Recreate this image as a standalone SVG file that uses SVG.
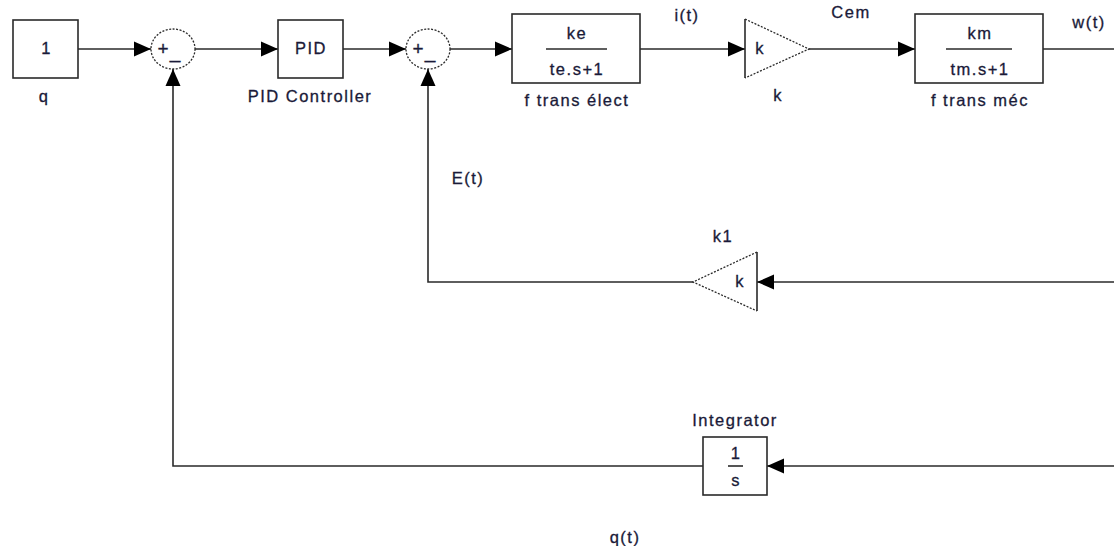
<svg xmlns="http://www.w3.org/2000/svg" width="1114" height="546" viewBox="0 0 1114 546">
<defs>
<style>
.ln{fill:none;stroke:#2a2a2a;stroke-width:1.6}
.bx{fill:#fff;stroke:#2a2a2a;stroke-width:1.6}
.sm{fill:#fff;stroke:#2a2a2a;stroke-width:1.3;stroke-dasharray:2 1.5}
.tri{fill:none;stroke:#2a2a2a;stroke-width:1.3;stroke-dasharray:2 1.5}
.t{font-family:"Liberation Sans",Arial,sans-serif;font-size:16.5px;letter-spacing:1.5px;fill:#1a1a38;stroke:#1a1a38;stroke-width:0.3;text-anchor:middle;dominant-baseline:central}
.s{font-family:"Liberation Sans",Arial,sans-serif;font-size:19px;fill:#1a1a38;stroke:#1a1a38;stroke-width:0.3;text-anchor:middle;dominant-baseline:central}
.ah{fill:#000}
</style>
<marker id="arr" markerWidth="18" markerHeight="16" refX="17" refY="8" orient="auto" markerUnits="userSpaceOnUse">
<path d="M0,0.5 L17,8 L0,15.5 Z" class="ah"/>
</marker>
</defs>
<rect width="1114" height="546" fill="#fff"/>
<g id="connectors">
<line class="ln" x1="78" y1="49" x2="151" y2="49" marker-end="url(#arr)"/>
<line class="ln" x1="195" y1="49" x2="278" y2="49" marker-end="url(#arr)"/>
<line class="ln" x1="343" y1="49" x2="406" y2="49" marker-end="url(#arr)"/>
<line class="ln" x1="450" y1="49" x2="512" y2="49" marker-end="url(#arr)"/>
<line class="ln" x1="640" y1="49" x2="745" y2="49" marker-end="url(#arr)"/>
<line class="ln" x1="809" y1="49" x2="915" y2="49" marker-end="url(#arr)"/>
<line class="ln" x1="1043" y1="49" x2="1114" y2="49"/>
<line class="ln" x1="1114" y1="282" x2="757" y2="282" marker-end="url(#arr)"/>
<polyline class="ln" points="693,282 428,282 428,69" marker-end="url(#arr)"/>
<line class="ln" x1="1114" y1="466" x2="767" y2="466" marker-end="url(#arr)"/>
<polyline class="ln" points="703,466 173,466 173,69" marker-end="url(#arr)"/>
</g>
<g id="const">
<rect class="bx" x="13" y="20" width="65" height="58"/>
<text class="t" x="46.5" y="48">1</text>
<text class="t" x="44" y="96">q</text>
</g>
<g id="sum1">
<ellipse class="sm" cx="173" cy="49" rx="22" ry="20"/>
<text class="s" x="163" y="48">+</text>
<text class="s" x="175" y="51">_</text>
</g>
<g id="pid">
<rect class="bx" x="278" y="20" width="65" height="58"/>
<text class="t" x="311" y="48">PID</text>
<text class="t" x="310" y="96">PID Controller</text>
</g>
<g id="sum2">
<ellipse class="sm" cx="428" cy="49" rx="22" ry="20"/>
<text class="s" x="418" y="48">+</text>
<text class="s" x="430" y="51">_</text>
</g>
<g id="ftrans_elect">
<rect class="bx" x="512" y="14" width="128" height="69"/>
<text class="t" x="577" y="33">ke</text>
<line class="ln" x1="546" y1="49" x2="607" y2="49"/>
<text class="t" x="577" y="69">te.s+1</text>
<text class="t" x="577" y="100">f trans élect</text>
</g>
<g id="gain_k">
<line class="ln" x1="745" y1="19" x2="745" y2="78"/>
<polyline class="tri" points="745,19 809,49 745,78"/>
<text class="t" x="760" y="48">k</text>
<text class="t" x="778" y="95">k</text>
</g>
<g id="ftrans_mec">
<rect class="bx" x="915" y="14" width="128" height="69"/>
<text class="t" x="980" y="33">km</text>
<line class="ln" x1="946" y1="49" x2="1012" y2="49"/>
<text class="t" x="980" y="69">tm.s+1</text>
<text class="t" x="980" y="100">f trans méc</text>
</g>
<g id="gain_k1">
<line class="ln" x1="757" y1="252" x2="757" y2="311"/>
<polyline class="tri" points="757,252 693,282 757,311"/>
<text class="t" x="740" y="281">k</text>
<text class="t" x="723" y="236">k1</text>
</g>
<g id="integrator">
<rect class="bx" x="703" y="437" width="64" height="58"/>
<text class="t" x="736" y="453">1</text>
<line class="ln" x1="728" y1="466" x2="743" y2="466"/>
<text class="t" x="736" y="480">s</text>
<text class="t" x="735" y="420">Integrator</text>
</g>
<g id="labels">
<text class="t" x="687" y="15">i(t)</text>
<text class="t" x="851" y="12">Cem</text>
<text class="t" x="1089" y="22">w(t)</text>
<text class="t" x="468" y="178">E(t)</text>
<text class="t" x="625" y="537">q(t)</text>
</g>
</svg>
